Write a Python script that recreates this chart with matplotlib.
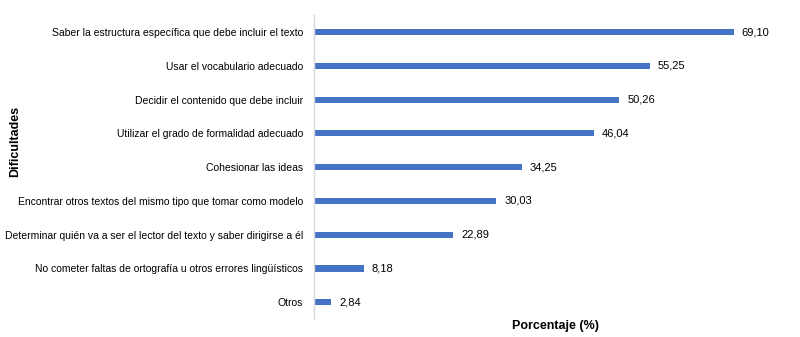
import matplotlib.pyplot as plt

plt.rcParams['font.family'] = ['Liberation Sans', 'DejaVu Sans']

# Difficulties and percentages (bottom to top as drawn)
dificultades = [
    'Otros',
    'No cometer faltas de ortografía u otros errores lingüísticos',
    'Determinar quién va a ser el lector del texto y saber dirigirse a él',
    'Encontrar otros textos del mismo tipo que tomar como modelo',
    'Cohesionar las ideas',
    'Utilizar el grado de formalidad adecuado',
    'Decidir el contenido que debe incluir',
    'Usar el vocabulario adecuado',
    'Saber la estructura específica que debe incluir el texto',
]
porcentajes = [2.84, 8.18, 22.89, 30.03, 34.25, 46.04, 50.26, 55.25, 69.10]

fig = plt.figure(figsize=(8, 3.37), dpi=100)
ax = fig.add_axes([0.3925, 0.053, 0.6075, 0.902])

pos = range(len(dificultades))
ax.barh(pos, porcentajes, height=0.18, color='#4472C4')

for y, v in zip(pos, porcentajes):
    ax.text(v + 1.3, y, f'{v:.2f}'.replace('.', ','), va='center', ha='left',
            fontsize=8, color='#000000')

ax.set_xlim(0, 80)
ax.set_ylim(-0.5, len(dificultades) - 0.5)
ax.set_yticks(list(pos))
ax.set_yticklabels(dificultades, fontsize=7.5)
ax.tick_params(axis='y', length=0, pad=8)
ax.set_xticks([])

for s in ['top', 'right', 'bottom']:
    ax.spines[s].set_visible(False)
ax.spines['left'].set_color('#D9D9D9')
ax.spines['left'].set_linewidth(1.0)

fig.text(15 / 800, 1 - 141 / 337, 'Dificultades', rotation=90, ha='center',
         va='center', fontsize=9, fontweight='bold')
fig.text(556 / 800, 1 - 326 / 337, 'Porcentaje (%)', ha='center', va='center',
         fontsize=9, fontweight='bold')

fig.savefig('out.png', dpi=100)
